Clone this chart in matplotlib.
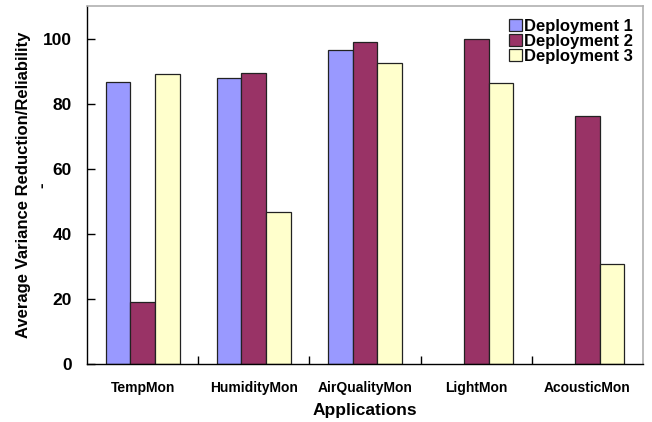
import matplotlib
matplotlib.use("Agg")
import matplotlib.pyplot as plt
import numpy as np

plt.rcParams['font.family'] = ['Liberation Sans', 'DejaVu Sans']
plt.rcParams['font.weight'] = 'bold'

applications = ["TempMon", "HumidityMon", "AirQualityMon", "LightMon", "AcousticMon"]
series_names = ["Deployment 1", "Deployment 2", "Deployment 3"]
deployment1 = [86.5, 87.9, 96.4, np.nan, np.nan]
deployment2 = [19.1, 89.3, 99.0, 100.0, 76.1]
deployment3 = [89.0, 46.8, 92.6, 86.4, 30.7]
y_ticks = [0, 20, 40, 60, 80, 100]

colors = ["#9999FF", "#993366", "#FFFFCC"]

fig = plt.figure(figsize=(6.52, 4.22), dpi=100)
ax = fig.add_axes([87 / 652, 58 / 422, 556 / 652, 358 / 422])

x = np.arange(len(applications))
w = 1 / 4.5  # three bars + 150% gap per category
for j, (vals, name) in enumerate(zip([deployment1, deployment2, deployment3], series_names)):
    ax.bar(x + (j - 1) * w, vals, width=w, color=colors[j], edgecolor="#222222",
           linewidth=0.9, label=name, zorder=2)

ax.set_xlim(-0.5, len(applications) - 0.5)
ax.set_ylim(0, 110)
ax.set_yticks(y_ticks)
ax.set_xticks(x)
ax.set_xticklabels(applications, fontsize=10, fontweight='bold')
ax.set_xticks(x[:-1] + 0.5, minor=True)
ax.tick_params(axis='x', which='major', length=0, pad=12)
ax.tick_params(axis='x', which='minor', direction='in', length=6, width=1)
ax.tick_params(axis='y', direction='in', length=6, width=1, labelsize=12.5, pad=11)
for lbl in ax.get_yticklabels():
    lbl.set_fontweight('bold')

for side in ['left', 'bottom']:
    ax.spines[side].set_color('black')
    ax.spines[side].set_linewidth(1.0)
for side in ['top', 'right']:
    ax.spines[side].set_color('#b0b0b0')
    ax.spines[side].set_linewidth(1.2)

ax.set_xlabel("Applications", fontsize=12.5, fontweight='bold', labelpad=6)
ax.set_ylabel("Average Variance Reduction/Reliability", fontsize=12,
              fontweight='bold')
ax.yaxis.set_label_coords(-0.1, 0.5)
# stray second line of the y label
ax.text(-0.081, 0.5, "-", transform=ax.transAxes, rotation=90, fontsize=12,
        fontweight='bold', ha='center', va='center')

leg = ax.legend(loc='upper right', bbox_to_anchor=(0.981, 0.965), frameon=False,
                prop={'weight': 'bold', 'size': 12},
                handlelength=0.8, handleheight=0.75, handletextpad=0.1,
                labelspacing=0.0, borderaxespad=0, borderpad=0)

fig.savefig("out.png", dpi=100, facecolor='white')
